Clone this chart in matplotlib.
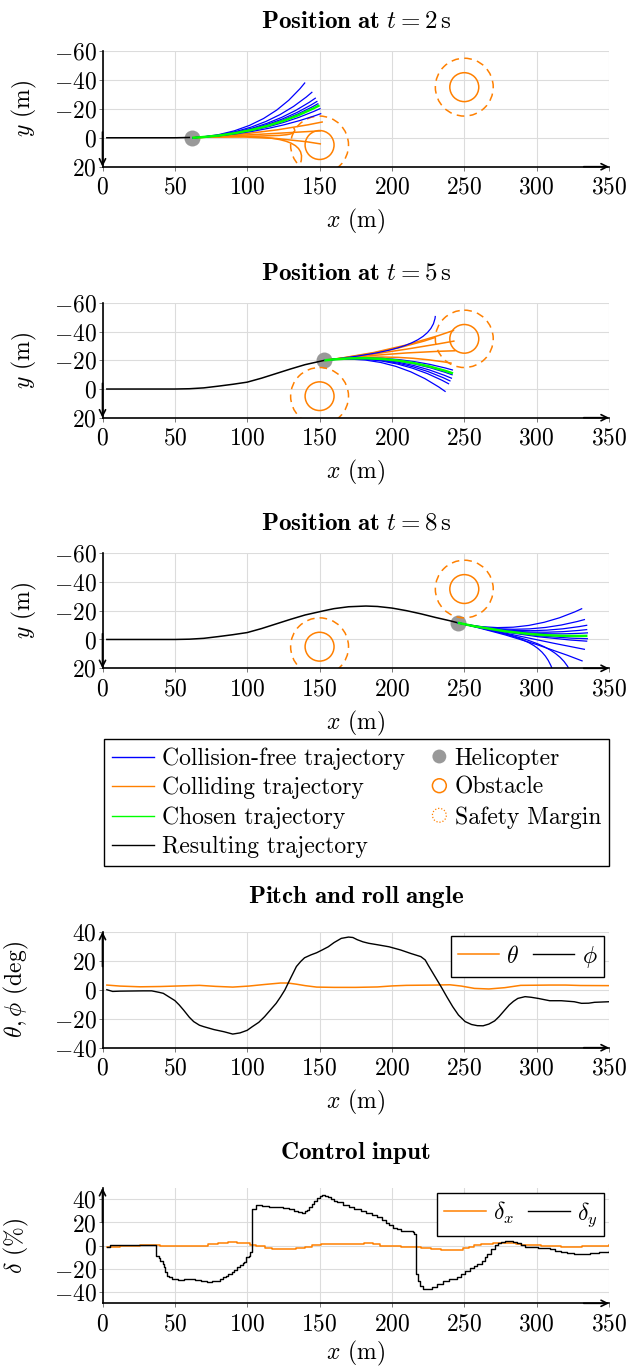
"""Helicopter obstacle avoidance: candidate trajectories, attitude and control input."""

import numpy as np
import matplotlib
matplotlib.use("Agg")
import matplotlib.pyplot as plt
from matplotlib.path import Path
from matplotlib.patches import PathPatch, Circle
from matplotlib.legend_handler import HandlerPatch

plt.rcParams.update({
    "font.family": "serif",
    "font.serif": ["cmr10"],
    "mathtext.fontset": "cm",
    "axes.formatter.use_mathtext": True,
    "font.size": 17,
})

W, H = 630, 1368
FS = 17
BLUE = "#0000ff"
ORANGE = "#ff8000"
GREEN = "#00ff00"
GRAY = "#999999"
GRID = "#dcdcdc"

# ---------------------------------------------------------------- data
times = [2, 5, 8]

# resulting (flown) trajectory, x/y in m
traj = np.array([
    (3, 0), (50, 0), (60, -0.2), (70, -0.8), (80, -2.0), (90, -3.3), (100, -4.8),
    (110, -7.6), (120, -10.8), (130, -14.0), (140, -17.0), (153.3, -20.0),
    (160, -21.4), (170, -22.7), (182, -23.2), (190, -22.9), (200, -21.8),
    (210, -20.0), (220, -17.8), (230, -15.3), (240, -13.0), (245.4, -11.6),
])

heli_pos = [(62, 0), (153.3, -20), (245.4, -11.6)]

obstacle_x = [150, 250]
obstacle_y = [5, -35]
obstacle_r = 10
margin_r = 20

# candidate trajectories: shared control point + end points
fan_ctrl = [(112, -2.5), (200, -25.5), (290, -1.5)]
blue_ends = [
    [(140, -38.2), (145, -31.7), (147.4, -27.6), (148.5, -25.3), (149.2, -23.7),
     (150.7, -20.3), (151.2, -16.8)],
    [(242.2, -13.2), (242, -9.8), (241.5, -7.4), (240.5, -5.5), (239.5, -3.5),
     (237.1, 1.9)],
    [(331.5, -21.5), (333.4, -13.9), (335, -9.9), (335, -6.9), (335.5, -4.6),
     (335.5, -0.5), (335, 1.2), (333.4, 6.9), (331.8, 15)],
]
orange_ends = [
    [(152.3, -11), (151, -4.8), (151, 4.3)],
    [(243, -41), (230, -36), (243.3, -33.5), (244, -26.7), (241.3, -18)],
    [],
]
green_ends = [(150, -22.5), (242.2, -10.9), (335.1, -2.5)]
# strongly turning candidates: (colour, ctrl1, ctrl2, end)
curl_paths = [
    [(ORANGE, (112, -2.5), (142, -1), (137, 17)),
     (ORANGE, (112, -2.5), (138, 1), (132, -7))],
    [(BLUE, (195, -25), (228, -30), (230, -51))],
    [(BLUE, (290, -1.5), (305, 1), (312, 24)),
     (BLUE, (290, -1.5), (316, 3), (324, 24))],
]

# pitch / roll angle (deg) over x (m)
pitch = np.array([
    (3, 3.2), (12, 2.5), (26, 2.0), (40, 2.2), (50, 2.5), (67, 3.0), (78, 2.3),
    (90, 1.8), (101, 2.5), (112, 3.6), (123, 4.6), (128, 4.6), (134, 3.8),
    (140, 2.8), (148, 1.8), (160, 1.6), (175, 1.6), (190, 1.9), (200, 2.6),
    (210, 3.0), (230, 3.2), (240, 3.4), (248, 2.5), (257, 0.9), (267, 0.5),
    (278, 1.4), (289, 3.0), (300, 3.1), (309, 3.2), (320, 3.2), (330, 2.9),
    (350, 2.8),
])
roll = np.array([
    (3, 0), (7, -1.2), (12, -1.0), (20, -0.9), (28, -0.8), (34, -0.8), (39, -1.8),
    (42, -2.5), (46, -5), (50, -7.5), (53, -10.5), (56, -14), (60, -19),
    (63, -22), (67, -24.5), (70, -25.5), (77, -27.5), (84, -29), (90, -30.6),
    (95, -29.8), (100, -28), (103.5, -25.5), (108, -22.5), (112, -18.6),
    (116, -14), (120, -9.4), (123, -5), (126, -0.2), (130, 8), (134, 16),
    (137, 19.5), (139.6, 22), (144, 24), (148, 25.5), (152, 27.5), (156, 29.6),
    (160, 32.5), (165, 35.4), (170, 36.3), (173, 36), (176, 34.5), (180, 33),
    (184, 32), (190, 31), (198, 29.6), (206, 27.4), (213, 25), (220, 22.8),
    (223, 20.5), (225, 17), (228, 12), (231, 7), (234, 2), (238, -5),
    (242, -11.7), (246, -17.5), (250.6, -22), (255, -24), (259, -24.8),
    (263, -24.9), (267, -23.7), (271, -21.5), (274, -18.6), (278, -14),
    (281, -10.6), (284, -8), (287, -6), (292, -4.8), (296, -5.2), (301, -6),
    (305, -6.8), (309, -7.6), (317, -7.6), (326, -8.3), (331, -9.4),
    (336, -9.3), (340, -8.7), (345, -8.5), (350, -8.3),
])

# control input (%) over x (m)
delta_x = np.array([
    (3, -1.4), (12, -0.6), (20, 0), (26, 0.3), (40, 0), (48, -0.4), (62, -0.6),
    (67, 0), (73, 1.4), (80, 2.3), (87, 2.9), (93, 2.6), (98, 2), (102, 0.8),
    (106, -0.6), (112, -2), (117, -2.9), (128.5, -2.9), (134, -2), (139.6, -0.9),
    (145, 0.5), (150.7, 1.4), (167, 1.4), (181, 2), (187, 1), (192, 0),
    (206, -1.4), (220, -2.3), (227, -3), (234, -3.8), (245, -3.8), (249, -2.5),
    (253, -0.9), (257, 0.3), (261.7, 1.4), (270, 2.3), (281, 2.3), (286, 1.2),
    (289.5, 0.6), (303, 0), (317, -0.9), (331, 0), (350, 0.3),
])
delta_y = np.array([
    (3, -1.4), (5, 0.3), (20, 0.3), (28, 0.6), (36, 0.2), (37, -8.7), (39, -11),
    (40, -13), (41.5, -16), (42.5, -19), (43.5, -23), (44.5, -26), (46, -27.5),
    (48, -29), (52, -29.8), (56, -29.3), (60, -29), (64, -29.7), (68, -30.3),
    (72, -31.2), (76, -31), (79, -30.3), (81, -29), (83, -27.5), (85, -26),
    (87, -24.5), (89.6, -23), (91, -21), (93, -19), (95, -17), (97, -15.5),
    (98, -14), (99, -10), (101, -9), (102, -5.8), (103.5, 32), (106, 34.7),
    (110, 34.2), (115, 33.6), (120, 33), (125, 32.4), (129, 31.5), (132, 30.2),
    (135, 29), (138, 28.6), (140, 29.5), (141.5, 31), (143, 33), (144.5, 36),
    (146, 38.5), (148, 41.3), (150, 42.5), (152, 43.4), (154, 43.2), (156, 42),
    (158, 40.5), (160, 38.8), (162, 37.6), (166, 35.5), (170, 33.2),
    (174, 31.6), (178.5, 30.3), (182, 28.5), (186, 26.5), (189.6, 24.6),
    (193, 22), (196, 19.5), (198, 18), (201, 15.5), (203.5, 14.5), (206, 13),
    (209, 12.4), (214.5, 11.5), (215.5, 10), (216.5, -24.6), (218, -31),
    (219.5, -35), (221.5, -38), (225.6, -37.6), (228, -35.5), (231, -33),
    (235, -31), (239.5, -29), (245, -27.5), (248, -24.5), (250.6, -21.7),
    (254, -19.5), (257, -17.5), (259, -16), (262, -13), (264.5, -10), (266, -7),
    (268.7, -2.9), (271, 0.5), (273, 2.5), (275.6, 3.5), (278, 4.3), (281, 4.3),
    (284, 3.3), (286.7, 2), (289, 0.5), (292, -0.9), (296, -1.5), (300.6, -2),
    (305, -2.3), (309, -2.9), (313, -4.3), (317, -5.8), (321, -6.8),
    (325.6, -7.2), (331, -7), (336.7, -6.6), (343, -5.8), (350, -4.9),
])

# ---------------------------------------------------------------- helpers
fig = plt.figure(figsize=(W / 100, H / 100), dpi=100)
LEFT, RIGHT = 102.5, 609


def add_axes(top, bottom):
    return fig.add_axes([LEFT / W, 1 - bottom / H, (RIGHT - LEFT) / W, (bottom - top) / H])


def title(text, y):
    fig.text((LEFT + RIGHT) / 2 / W, 1 - y / H, text, ha="center", va="center", fontsize=18)


def style(ax, ylim, yticks, ylabel, ylab_right, arrow_down=False, xlabpad=6):
    ax.set_xlim(0, 350)
    ax.set_ylim(*ylim)
    ax.set_xticks(np.arange(0, 351, 50))
    ax.set_yticks(yticks)
    for s in ("top", "right"):
        ax.spines[s].set_visible(False)
    for s in ("left", "bottom"):
        ax.spines[s].set_linewidth(1.2)
        ax.spines[s].set_zorder(5)
    ax.grid(True, color=GRID, lw=0.8)
    ax.set_axisbelow(True)
    ax.tick_params(direction="out", length=3, width=0.6, color="#666666", labelsize=FS)
    ax.tick_params(axis="x", pad=4)
    ax.tick_params(axis="y", pad=1)
    ax.set_xlabel(r"$x$ (m)", fontsize=FS, labelpad=xlabpad)
    ax.set_ylabel(ylabel, fontsize=FS)
    # label anchor is the right edge of the rotated text
    ax.yaxis.set_label_coords((ylab_right - LEFT) / (RIGHT - LEFT), 0.5)
    akw = dict(arrowstyle="->", color="k", lw=1.2, shrinkA=0, shrinkB=0, mutation_scale=11)
    ax.annotate("", xy=(1.0, 0), xytext=(0.95, 0), xycoords="axes fraction",
                arrowprops=akw, annotation_clip=False, zorder=6)
    if arrow_down:
        ax.annotate("", xy=(0, 0), xytext=(0, 0.3), xycoords="axes fraction",
                    arrowprops=akw, annotation_clip=False, zorder=6)
    else:
        ax.annotate("", xy=(0, 1.0), xytext=(0, 0.7), xycoords="axes fraction",
                    arrowprops=akw, annotation_clip=False, zorder=6)


def curve(ax, pts, color, lw):
    codes = [Path.MOVETO] + [Path.CURVE3 if len(pts) == 3 else Path.CURVE4] * (len(pts) - 1)
    ax.add_patch(PathPatch(Path(pts, codes), fill=False, edgecolor=color, lw=lw, zorder=3))


def small_legend(ax):
    lg = ax.legend(ncol=2, loc="upper right", fontsize=FS, frameon=True, fancybox=False,
                   edgecolor="k", framealpha=1, handlelength=1.75, handletextpad=0.3,
                   columnspacing=0.6, borderaxespad=0.2, borderpad=0.3)
    lg.get_frame().set_linewidth(1.0)


# ---------------------------------------------------------------- position panels
pos_boxes = [(51, 166.7), (303, 417.7), (553, 668.3)]
title_y = [21.7, 273.3, 523.3]

for i, t in enumerate(times):
    ax = add_axes(*pos_boxes[i])
    title(r"$\mathbf{Position\ at}\ t = %d\,\mathrm{s}$" % t, title_y[i])
    style(ax, (20, -60), np.arange(-60, 21, 20), r"$y$ (m)", 39, arrow_down=True)

    hx, hy = heli_pos[i]
    ax.plot(hx, hy, "o", color=GRAY, ms=11.5, mec="none", zorder=2)

    flown = traj[traj[:, 0] <= hx]
    ax.plot(flown[:, 0], flown[:, 1], color="k", lw=1.1, zorder=3)

    for ox, oy in zip(obstacle_x, obstacle_y):
        ax.add_patch(Circle((ox, oy), obstacle_r, fill=False, ec=ORANGE, lw=1.1, zorder=2))
        ax.add_patch(Circle((ox, oy), margin_r, fill=False, ec=ORANGE, lw=1.1,
                            ls=(0, (5, 3.5)), zorder=2))

    for end in orange_ends[i]:
        curve(ax, [heli_pos[i], fan_ctrl[i], end], ORANGE, 1.1)
    for col, c1, c2, end in curl_paths[i]:
        curve(ax, [heli_pos[i], c1, c2, end], col, 0.9 if col == BLUE else 1.1)
    for end in blue_ends[i]:
        curve(ax, [heli_pos[i], fan_ctrl[i], end], BLUE, 0.9)
    curve(ax, [heli_pos[i], fan_ctrl[i], green_ends[i]], GREEN, 1.8)

# ---------------------------------------------------------------- legend
def circle_at_right(legend, orig_handle, xdescent, ydescent, width, height, fontsize):
    r = 0.42 * height
    return Circle((width - xdescent - r, height / 2 - ydescent), r)


handles = [
    plt.Line2D([], [], color=BLUE, lw=1.0),
    plt.Line2D([], [], color=ORANGE, lw=1.0),
    plt.Line2D([], [], color=GREEN, lw=1.0),
    plt.Line2D([], [], color="k", lw=1.0),
    Circle((0, 0), 1, fc=GRAY, ec="none"),
    Circle((0, 0), 1, fc="none", ec=ORANGE, lw=1.1),
    Circle((0, 0), 1, fc="none", ec=ORANGE, lw=0.9, ls=(0, (1, 1.5))),
]
labels = ["Collision-free trajectory", "Colliding trajectory", "Chosen trajectory",
          "Resulting trajectory", "Helicopter", "Obstacle", "Safety Margin"]
hp = HandlerPatch(patch_func=circle_at_right)
leg = fig.legend(handles, labels, ncol=2, loc="upper left",
                 bbox_to_anchor=(104 / W, 1 - 739 / H), fontsize=FS,
                 frameon=True, fancybox=False, edgecolor="k", framealpha=1,
                 handlelength=1.75, handletextpad=0.35, columnspacing=0.0,
                 labelspacing=0.3, borderpad=0.35, borderaxespad=0,
                 handler_map={Circle: hp})
leg.get_frame().set_linewidth(1.0)

# ---------------------------------------------------------------- pitch / roll
ax4 = add_axes(931.7, 1047.7)
title(r"$\mathbf{Pitch\ and\ roll\ angle}$", 896.7)
style(ax4, (-40, 40), np.arange(-40, 41, 20), r"$\theta, \phi$ (deg)", 31)
ax4.plot(pitch[:, 0], pitch[:, 1], color=ORANGE, lw=1.1, label=r"$\theta$")
ax4.plot(roll[:, 0], roll[:, 1], color="k", lw=1.0, label=r"$\phi$")
small_legend(ax4)

# ---------------------------------------------------------------- control input
ax5 = add_axes(1187.8, 1303.3)
title(r"$\mathbf{Control\ input}$", 1153)
style(ax5, (-50, 50), np.arange(-40, 41, 20), r"$\delta$ (%)", 31, xlabpad=3)
ax5.plot(delta_x[:, 0], delta_x[:, 1], color=ORANGE, lw=1.1, drawstyle="steps-post",
         label=r"$\delta_x$")
ax5.plot(delta_y[:, 0], delta_y[:, 1], color="k", lw=1.0, drawstyle="steps-post",
         label=r"$\delta_y$")
small_legend(ax5)

fig.savefig("out.png", dpi=100)
